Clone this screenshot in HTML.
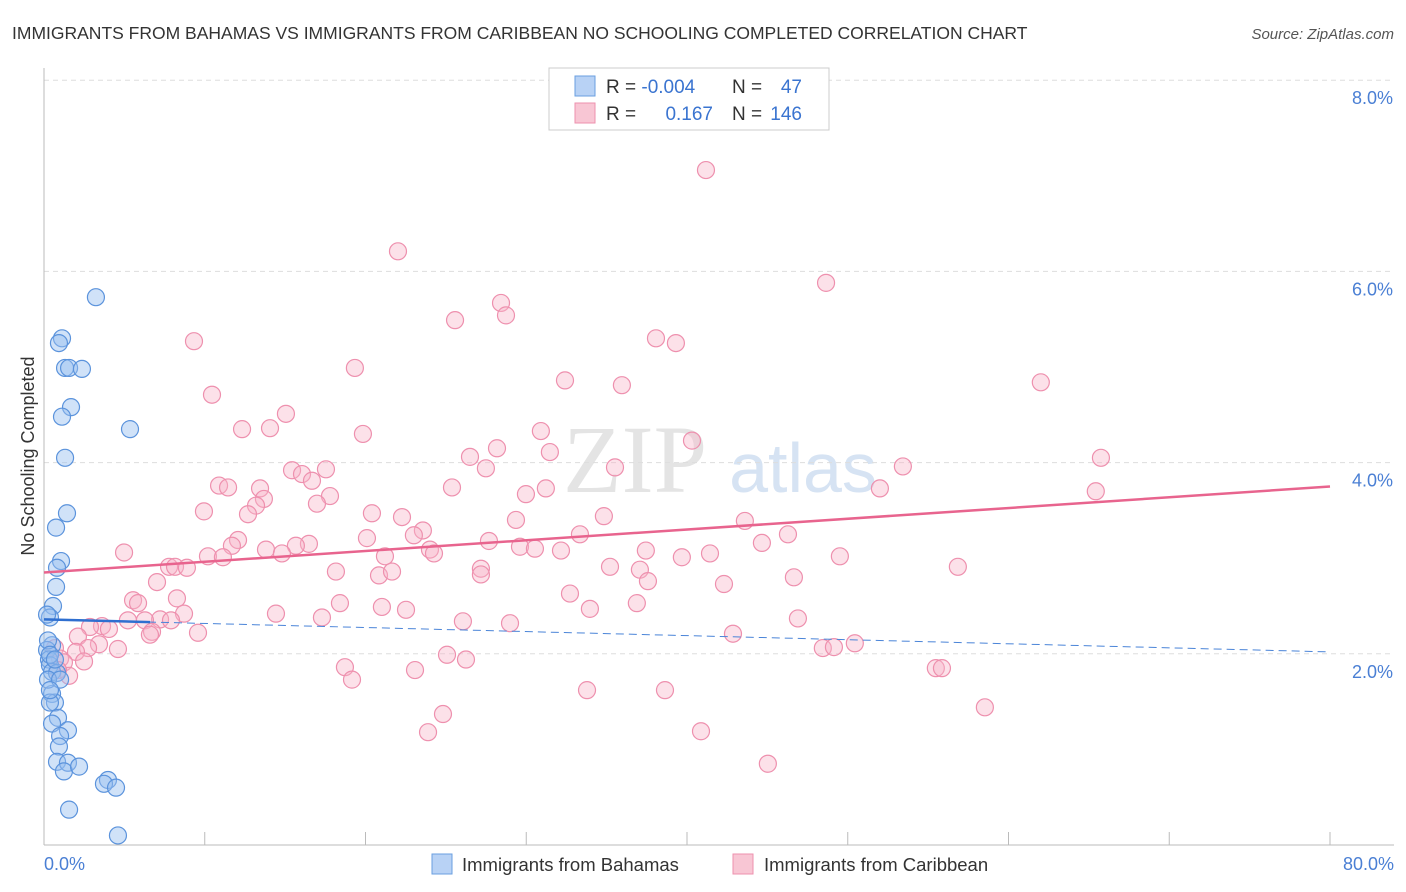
<!DOCTYPE html>
<html><head><meta charset="utf-8"><style>
body{margin:0;background:#fff;font-family:"Liberation Sans",sans-serif;}
svg{display:block}
</style></head><body>
<svg id="chart" width="1406" height="892" viewBox="0 0 1406 892" xmlns="http://www.w3.org/2000/svg">
<text x="12" y="39" font-size="17.5" fill="#333">IMMIGRANTS FROM BAHAMAS VS IMMIGRANTS FROM CARIBBEAN NO SCHOOLING COMPLETED CORRELATION CHART</text>
<text x="1394" y="39" font-size="15" fill="#555" font-style="italic" text-anchor="end">Source: ZipAtlas.com</text>
<text x="635" y="492" font-size="96" fill="#e4e4e4" font-family="Liberation Serif, serif" text-anchor="middle">ZIP</text>
<text x="803" y="492" font-size="70" fill="#d6e3f3" text-anchor="middle">atlas</text>
<g id="grid"></g>
<g id="axes"></g>
<g id="pts"></g>
<g id="trends"></g>
<text transform="translate(34,456) rotate(-90)" font-size="18" fill="#333" text-anchor="middle">No Schooling Completed</text>
<text x="44" y="870" font-size="18" fill="#4a7fd4">0.0%</text>
<text x="1394" y="870" font-size="18" fill="#4a7fd4" text-anchor="end">80.0%</text>
<g>
<rect x="549" y="68" width="280" height="62" fill="#fff" stroke="#ccc"/>
<rect x="575" y="76" width="20" height="20" fill="#b8d2f5" stroke="#6a9fe0"/>
<rect x="575" y="103" width="20" height="20" fill="#f8c6d4" stroke="#ee90ae"/>
<text x="606" y="93" font-size="19" fill="#333">R = <tspan fill="#3a74d0">-0.004</tspan></text>
<text x="732" y="93" font-size="19" fill="#333">N = </text><text x="802" y="93" font-size="19" fill="#3a74d0" text-anchor="end">47</text>
<text x="606" y="120" font-size="19" fill="#333">R = </text><text x="713" y="120" font-size="19" fill="#3a74d0" text-anchor="end">0.167</text>
<text x="732" y="120" font-size="19" fill="#333">N = </text><text x="802" y="120" font-size="19" fill="#3a74d0" text-anchor="end">146</text>
</g>
<g>
<rect x="432" y="854" width="20" height="20" fill="#b8d2f5" stroke="#6a9fe0"/>
<text x="462" y="871" font-size="18.5" fill="#333">Immigrants from Bahamas</text>
<rect x="733" y="854" width="20" height="20" fill="#f8c6d4" stroke="#ee90ae"/>
<text x="764" y="871" font-size="18.5" fill="#333">Immigrants from Caribbean</text>
</g>
</svg>
<script>
const yTicks=[2,4,6,8];
const yTickLabels=["2.0%","4.0%","6.0%","8.0%"];
const xTicks=[0,10,20,30,40,50,60,70,80];
const bahamasX=[3.23,1.12,0.93,1.31,1.56,2.36,1.68,1.12,1.31,5.35,1.43,0.75,1.06,0.81,0.75,0.56,0.37,0.50,0.19,0.31,0.37,0.50,0.81,0.50,0.68,0.37,0.87,0.50,1.49,1.00,0.93,0.81,1.49,1.24,2.18,3.98,3.73,4.48,1.56,4.60,0.19,0.25,0.37,0.68,0.25,1.00,0.37];
const bahamasY=[5.73,5.30,5.25,4.99,4.99,4.98,4.58,4.48,4.05,4.35,3.47,3.32,2.97,2.90,2.70,2.50,2.38,2.09,2.04,1.94,1.88,1.81,1.80,1.58,1.49,1.49,1.33,1.27,1.20,1.14,1.03,0.87,0.86,0.77,0.82,0.68,0.64,0.60,0.37,0.10,2.41,2.14,1.99,1.94,1.73,1.73,1.62];
const caribX=[41.18,22.02,48.65,28.43,28.74,25.57,38.07,39.31,9.33,19.34,32.41,35.95,62.01,10.45,15.05,12.32,14.06,19.84,30.91,40.31,28.18,31.47,26.50,27.49,65.75,53.43,15.43,17.54,16.05,16.67,10.89,11.45,13.44,35.52,25.38,31.22,17.79,13.68,13.19,52.00,29.98,65.43,16.98,9.95,12.69,20.40,22.27,34.83,23.57,29.36,43.60,12.07,11.69,23.01,20.09,33.34,46.28,16.48,15.67,13.81,4.98,14.80,10.20,11.13,27.68,29.61,30.54,32.16,44.66,21.21,24.01,24.26,37.44,41.43,39.68,49.51,7.78,8.15,8.89,35.21,37.07,56.85,18.16,20.84,21.65,27.18,27.18,37.57,46.65,7.03,42.30,32.72,8.27,5.54,5.85,18.41,21.02,22.52,33.96,36.88,14.43,8.71,17.29,46.90,7.22,7.90,6.28,26.06,28.99,5.22,3.61,4.04,2.86,6.72,6.59,42.86,9.58,2.11,3.42,2.74,4.60,48.45,49.14,50.44,0.68,1.99,1.00,25.07,26.25,2.49,1.24,18.72,23.08,55.48,55.86,19.16,1.56,33.78,38.63,24.82,23.89,40.87,58.53,45.03,0.87];
const caribY=[7.06,6.21,5.88,5.67,5.54,5.49,5.30,5.25,5.27,4.99,4.86,4.81,4.84,4.71,4.51,4.35,4.36,4.30,4.33,4.23,4.15,4.11,4.06,3.94,4.05,3.96,3.92,3.93,3.88,3.81,3.76,3.74,3.73,3.95,3.74,3.73,3.65,3.62,3.55,3.73,3.67,3.70,3.57,3.49,3.46,3.47,3.43,3.44,3.29,3.40,3.39,3.19,3.13,3.24,3.21,3.25,3.25,3.15,3.13,3.09,3.06,3.05,3.02,3.01,3.18,3.12,3.10,3.08,3.16,3.02,3.09,3.05,3.08,3.05,3.01,3.02,2.91,2.91,2.90,2.91,2.88,2.91,2.86,2.82,2.86,2.89,2.83,2.76,2.80,2.75,2.73,2.63,2.58,2.56,2.53,2.53,2.49,2.46,2.47,2.53,2.42,2.42,2.38,2.37,2.36,2.35,2.35,2.34,2.32,2.35,2.29,2.26,2.28,2.23,2.20,2.21,2.22,2.18,2.10,2.06,2.05,2.06,2.07,2.11,2.06,2.02,1.95,1.99,1.94,1.92,1.91,1.86,1.83,1.85,1.85,1.73,1.77,1.62,1.62,1.37,1.18,1.19,1.44,0.85,1.83];
const bahamasTrend=[2.36,2.02];
const caribTrend=[2.85,3.75];
const bahamasSolidEnd=6.6;

const NS="http://www.w3.org/2000/svg";
const X0=44,X1=1330,Y0=845,PXPER=95.6;
const sx=v=>X0+v*(X1-X0)/80;
const sy=v=>Y0-v*PXPER;
function mk(tag,attrs,parent){const e=document.createElementNS(NS,tag);for(const k in attrs)e.setAttribute(k,attrs[k]);parent.appendChild(e);return e;}
const grid=document.getElementById('grid'),axes=document.getElementById('axes'),pts=document.getElementById('pts'),tr=document.getElementById('trends');
yTicks.forEach((t,i)=>{
 const l=mk('line',{x1:X0,x2:1394,y1:sy(t),y2:sy(t),stroke:'#ddd','stroke-dasharray':'5,4'},grid);
 
 
 const tx=mk('text',{x:1393,y:sy(t)+24,'font-size':18,fill:'#4a7fd4','text-anchor':'end'},grid);
 tx.textContent=yTickLabels[i];
 
 
});
const xl=mk('line',{x1:X0,x2:1394,y1:Y0,y2:Y0,stroke:'#bbb'},axes);


const yl=mk('line',{x1:X0,x2:X0,y1:68,y2:Y0,stroke:'#bbb'},axes);


xTicks.forEach(t=>{
 const k=mk('line',{x1:sx(t),x2:sx(t),y1:Y0-13,y2:Y0,stroke:'#bbb'},axes);
 
 
});
caribX.forEach((v,i)=>{
 const c=mk('circle',{cx:sx(v),cy:sy(caribY[i]),r:8.5,fill:'rgba(248,180,200,0.4)',stroke:'#ee90ae','stroke-width':1.2},pts);
 
 
});
bahamasX.forEach((v,i)=>{
 const c=mk('circle',{cx:sx(v),cy:sy(bahamasY[i]),r:8.5,fill:'rgba(150,190,240,0.45)',stroke:'#5b93dc','stroke-width':1.2},pts);
 
 
});
const bAt=x=>bahamasTrend[0]+(bahamasTrend[1]-bahamasTrend[0])*x/80;
const bd=mk('line',{x1:sx(0),y1:sy(bAt(0)),x2:sx(80),y2:sy(bAt(80)),stroke:'#4a84d8','stroke-width':1,'stroke-dasharray':'8,5'},tr);


const bs=mk('line',{x1:sx(0),y1:sy(bAt(0)),x2:sx(bahamasSolidEnd),y2:sy(bAt(bahamasSolidEnd)),stroke:'#2f6fd0','stroke-width':2.5},tr);


const cl=mk('line',{x1:sx(0),y1:sy(caribTrend[0]),x2:sx(80),y2:sy(caribTrend[1]),stroke:'#e8648e','stroke-width':2.5},tr);


</script>
</body></html>
